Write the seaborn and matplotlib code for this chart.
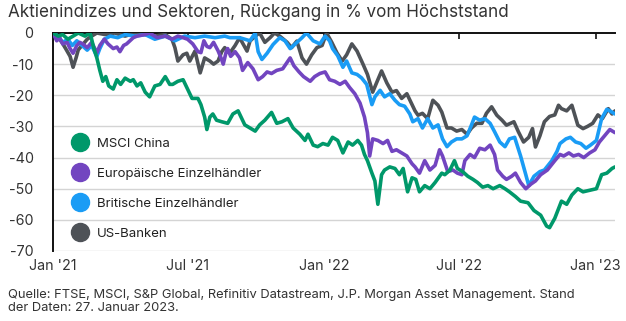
import matplotlib
matplotlib.use("Agg")
import matplotlib.pyplot as plt
from matplotlib.lines import Line2D
import seaborn as sns
import pandas as pd
import numpy as np

START = pd.Timestamp("2021-01-01")
END = pd.Timestamp("2023-01-27")

# ---- data: day offsets from 1 Jan 2021 and drawdown in % ----
china_days = [0, 7, 13, 20, 27, 34, 43, 50, 55, 59, 63, 67, 71, 75, 81, 86, 91, 97, 104, 108,
              113, 118, 124, 130, 137, 144, 151, 157, 161, 168, 175, 180, 187, 195, 199, 204, 207, 211, 215, 220,
              227, 235, 242, 249, 258, 265, 272, 278, 285, 294, 301, 308, 316, 323, 332, 339, 343, 350, 356, 363,
              370, 376, 383, 390, 397, 403, 410, 415, 419, 423, 429, 433, 437, 442, 446, 453, 460, 466, 471, 477,
              483, 488, 493, 500, 507, 514, 523, 527, 534, 540, 544, 551, 558, 565, 571, 578, 585, 592, 601, 608,
              614, 622, 629, 639, 647, 656, 664, 668, 675, 684, 691, 698, 706, 713, 722, 731, 738, 745, 752, 756]
china_vals = [0, -1, -0.5, -2, -1, 0, -1, 0, -5, -8, -12, -15.5, -14, -17, -18, -15, -16.5, -14.5, -15.5, -15,
              -17, -16, -19, -20.5, -17, -16.5, -14, -16.5, -16.5, -15.5, -15, -17.5, -21, -21, -23, -27, -31, -27, -26, -28,
              -28.5, -29, -26, -25, -29.5, -30.5, -31.5, -29.5, -28, -25.5, -29, -28.5, -27.5, -30.5, -32.5, -34.5, -32.5, -36, -36.5, -35.5,
              -36, -33.5, -34.5, -38.5, -35, -36, -34.5, -36, -39, -41, -45, -47.5, -55, -45.5, -44, -43, -43.5, -45.5, -43.5, -51,
              -46.5, -47, -51, -49, -50, -48, -45, -45.5, -44, -41, -43.5, -44.5, -46, -47, -48, -49.5, -49, -50, -49, -50,
              -51, -52.5, -54, -54.5, -57, -58.5, -62, -62.5, -59.5, -54, -55, -52, -50, -51, -50.5, -50, -45.5, -45, -43.5, -43]

europe_days = [0, 5, 9, 13, 19, 23, 27, 32, 36, 40, 46, 52, 59, 63, 69, 74, 81, 86, 90, 95,
               99, 108, 113, 124, 130, 140, 151, 160, 168, 175, 181, 188, 195, 199, 203, 207, 211, 216, 222, 226,
               229, 233, 235, 239, 245, 251, 255, 262, 269, 276, 282, 288, 294, 301, 309, 319, 324, 331, 337, 346,
               352, 359, 366, 372, 379, 386, 393, 399, 406, 413, 419, 423, 426, 430, 437, 444, 450, 456, 462, 469,
               476, 483, 487, 493, 500, 507, 514, 520, 524, 531, 538, 544, 550, 554, 561, 567, 574, 581, 588, 594,
               598, 605, 610, 617, 622, 629, 636, 643, 649, 656, 665, 675, 682, 687, 694, 700, 707, 714, 722, 729,
               735, 742, 749, 756]
europe_vals = [0, -2.5, -1.5, -3.5, -3, -5, -6.5, -4, -3, -3.5, -4.7, -3, -6.3, -4, -2, -3.5, -5, -4.5, -6, -4,
               -3.5, -1.5, -1, -0.5, 0, -1.5, -1, -2, -1, -1.5, -2, -3.5, -6, -6.3, -2.5, -4.3, -4.7, -3, -5.7, -8,
               -10, -6, -5, -7.5, -6, -8, -12, -9.5, -11.5, -15, -14, -12.5, -13, -12, -11.5, -8, -10.5, -12.5, -14, -15.5,
               -14, -13, -12.5, -15, -15.5, -16.5, -15.5, -17.5, -19.5, -22.5, -27, -32, -39.5, -34, -34.5, -35.5, -34.5, -38, -37.5, -38.5,
               -39.5, -42, -43, -45, -41, -44, -42.5, -37.5, -39.5, -44.5, -44, -45, -45.5, -41, -39, -40, -37, -37.5, -36, -39,
               -44, -46, -47, -46, -45, -48, -50, -48.5, -47.5, -45.5, -44, -41, -39, -39.5, -38.5, -39.5, -39, -40, -38.5, -37.5,
               -35, -33, -31, -32]

uk_days = [0, 7, 13, 20, 26, 32, 39, 46, 52, 59, 63, 69, 77, 87, 97, 110, 124, 137, 151, 164,
           177, 191, 204, 218, 231, 238, 251, 265, 272, 276, 281, 288, 296, 305, 312, 319, 325, 335, 341, 350,
           359, 366, 372, 376, 383, 390, 395, 402, 409, 415, 422, 429, 433, 440, 446, 453, 460, 466, 473, 480,
           484, 491, 497, 504, 511, 518, 524, 530, 536, 543, 550, 557, 563, 567, 574, 581, 588, 594, 601, 608,
           614, 621, 629, 636, 640, 647, 655, 661, 671, 678, 682, 690, 696, 703, 710, 717, 723, 731, 738, 745,
           749, 756]
uk_vals = [0, -1, -3, -2, -4, -2.5, -4, -5.5, -4, -7.5, -5, -2, -1, -1.5, -0.5, -1, -0.5, -2, -1, -2.5,
           -1, -1.5, -1, -1.5, -1, -1.5, -1.5, -2.5, 0, -6, -8.5, -6.5, -3.7, -1.5, -2.5, -5, -3.7, -1.5, 0, -2.5,
           -3.5, -1, -2.5, -5, -7.3, -11, -9, -12.8, -13.3, -14.4, -16.5, -23, -20.5, -18.4, -20.5, -19.5, -21.6, -23, -23.5, -26,
           -28.5, -27.5, -30.5, -27.5, -30.5, -29.5, -34, -36.5, -35, -34, -34, -33, -29.5, -27, -28, -27.5, -29, -31.7, -35, -36.5,
           -34, -33.5, -39.5, -45.5, -49, -46, -44.5, -44, -41, -38, -35.5, -34, -33.5, -35, -35.5, -37, -36, -34.5, -27.5, -24.5,
           -25, -26]

us_days = [0, 7, 12, 17, 23, 27, 31, 34, 39, 46, 52, 59, 70, 83, 97, 110, 124, 137, 151, 160,
           164, 168, 175, 180, 184, 191, 198, 204, 211, 216, 222, 227, 231, 238, 245, 251, 261, 265, 272, 278,
           285, 292, 298, 305, 315, 321, 328, 335, 341, 348, 355, 362, 368, 375, 382, 389, 395, 402, 409, 417,
           423, 430, 437, 442, 449, 456, 462, 469, 476, 483, 487, 491, 497, 504, 511, 518, 523, 530, 536, 543,
           550, 557, 563, 570, 577, 583, 590, 597, 604, 610, 620, 626, 633, 640, 645, 649, 655, 661, 668, 675,
           680, 684, 691, 698, 706, 713, 719, 726, 733, 739, 747, 752, 756]
us_vals = [0, -1.5, -3, -5, -7.5, -11, -8, -5.4, -4, -2, -1, 0, -0.5, 0, -1, 0, -0.5, -1, -0.5, -2,
           -4.7, -9, -7, -6.5, -9, -5.8, -12.8, -8, -9, -10, -9, -6, -4.7, -6.4, -4, -1.5, -5.8, -2.6, -1, 0,
           -3, -1.5, 0, -1, -3, -4.7, -2.6, -8, -10, -7, -4.7, -4, 0, -3, -6.4, -9, -7, -3.5, -5.8, -10,
           -13.3, -19, -15, -12.2, -16, -19, -18.5, -21, -19.5, -23, -25, -26.4, -25.8, -27.5, -21.6, -23.2, -25.4, -30.5, -30.5, -31.5,
           -31, -32.5, -30.5, -29, -29, -25.8, -23.7, -26.4, -28, -29.6, -28.5, -31.7, -35, -33.5, -30.7, -36.6, -33, -28.5, -26.8, -26.3,
           -23.2, -24.3, -25, -23.2, -29.6, -30.7, -30, -29, -26.3, -27.5, -24.3, -26, -25]

series_names = ["MSCI China", "Europäische Einzelhändler", "Britische Einzelhändler", "US-Banken"]
series_colors = ["#00986A", "#7245C0", "#1A9CF5", "#4E5257"]
x_tick_dates = ["2021-01-01", "2021-07-01", "2022-01-01", "2022-07-01", "2023-01-01"]
x_tick_labels = ["Jan '21", "Jul '21", "Jan '22", "Jul '22", "Jan '23"]
y_ticks = [0, -10, -20, -30, -40, -50, -60, -70]

title_text = "Aktienindizes und Sektoren, Rückgang in % vom Höchststand"
source_text = ("Quelle: FTSE, MSCI, S&P Global, Refinitiv Datastream, J.P. Morgan Asset Management. Stand\n"
               "der Daten: 27. Januar 2023.")

# ---- build frame ----
frames = []
for name, days, vals in [(series_names[0], china_days, china_vals),
                         (series_names[1], europe_days, europe_vals),
                         (series_names[2], uk_days, uk_vals),
                         (series_names[3], us_days, us_vals)]:
    frames.append(pd.DataFrame({
        "date": START + pd.to_timedelta(days, unit="D"),
        "value": vals,
        "series": name,
    }))
df = pd.concat(frames, ignore_index=True)

sns.set_theme(style="white")
plt.rcParams["font.family"] = ["Inter", "DejaVu Sans"]
plt.rcParams["axes.unicode_minus"] = False

fig = plt.figure(figsize=(6.26, 3.21), dpi=100)
ax = fig.add_axes([53 / 626, 1 - 251 / 321, (615 - 53) / 626, (251 - 33) / 321])

draw_order = [3, 2, 1, 0]
for i in draw_order:
    sub = df[df["series"] == series_names[i]]
    sns.lineplot(data=sub, x="date", y="value", ax=ax, color=series_colors[i],
                 linewidth=2.6, legend=False, zorder=3 + (3 - i), estimator=None)

ax.set_xlim(START, END)
ax.set_ylim(-70, 0)
ax.set_yticks(y_ticks)
ax.set_yticklabels([str(v) for v in y_ticks])
ax.set_xticks(pd.to_datetime(x_tick_dates))
ax.set_xticklabels(x_tick_labels)
ax.set_xlabel("")
ax.set_ylabel("")

for v in y_ticks[1:]:
    ax.axhline(v, color="#D4D4D4", linewidth=1.0, zorder=1)

for s in ["right", "bottom"]:
    ax.spines[s].set_visible(False)
ax.spines["top"].set_color("#111111")
ax.spines["top"].set_linewidth(1.4)
ax.spines["left"].set_color("#111111")
ax.spines["left"].set_linewidth(1.4)
ax.spines["top"].set_zorder(2)

ax.tick_params(axis="x", which="both", top=True, bottom=False, direction="in",
               length=4, width=1.2, color="#111111", labelbottom=True, labeltop=False,
               labelsize=10.3, labelcolor="#333333", pad=6)
ax.tick_params(axis="y", length=0, labelsize=10.3, labelcolor="#333333", pad=14)

handles = [Line2D([], [], marker="o", linestyle="", markersize=13,
                  markerfacecolor=c, markeredgecolor=c) for c in series_colors]
ax.legend(handles, series_names, loc="upper left", bbox_to_anchor=(0.015, 0.545),
          frameon=False, fontsize=9.5, labelspacing=1.35, handletextpad=0.3,
          labelcolor="#222222", borderaxespad=0)

fig.text(8 / 626, 1 - 4 / 321, title_text, ha="left", va="top", fontsize=12.3, color="#333333")
fig.text(8 / 626, 1 - 289 / 321, source_text, ha="left", va="top", fontsize=9.3,
         color="#333333", linespacing=1.12)

fig.savefig("out.png", dpi=100)
